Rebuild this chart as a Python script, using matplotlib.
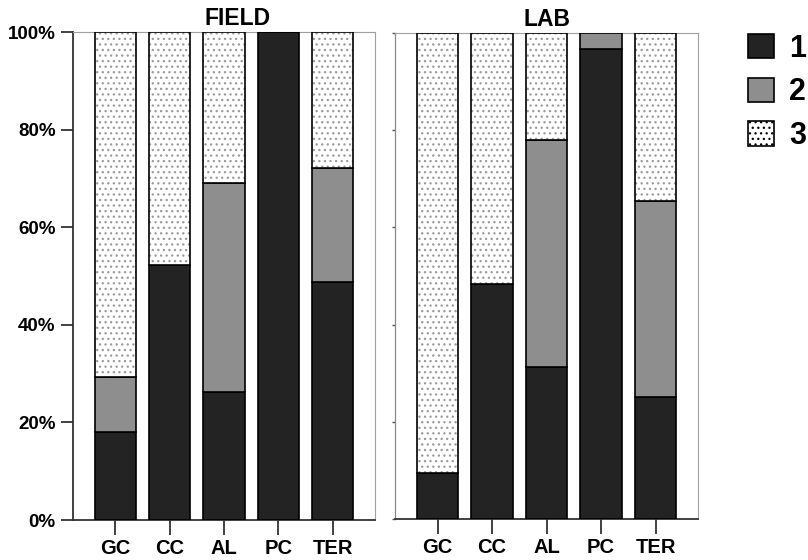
import matplotlib.pyplot as plt
from matplotlib.patches import Patch
import numpy as np

plt.rcParams['font.family'] = ['Liberation Sans', 'DejaVu Sans']
plt.rcParams['font.weight'] = 'bold'
plt.rcParams['hatch.linewidth'] = 0.9

categories = ['GC', 'CC', 'AL', 'PC', 'TER']
field_1 = [18.1, 52.3, 26.2, 100.0, 48.8]
field_2 = [11.3, 0.0, 42.9, 0.0, 23.3]
field_3 = [70.6, 47.7, 30.9, 0.0, 27.9]
lab_1 = [9.4, 48.4, 31.2, 96.6, 25.0]
lab_2 = [0.0, 0.0, 46.8, 3.4, 40.4]
lab_3 = [90.6, 51.6, 22.0, 0.0, 34.6]
yticks = [0, 20, 40, 60, 80, 100]
ytick_labels = ['0%', '20%', '40%', '60%', '80%', '100%']
legend_labels = ['1', '2', '3']

DARK = '#232323'
GRAY = '#8e8e8e'
DOT = '#9a9a9a'
WIDTH = 0.76


def draw_panel(ax, s1, s2, s3, title, show_labels, title_x):
    x = np.arange(len(categories))
    s1 = np.array(s1)
    s2 = np.array(s2)
    s3 = np.array(s3)
    ax.bar(x, s1, WIDTH, color=DARK, edgecolor='black', linewidth=1.2, zorder=3)
    ax.bar(x, s2, WIDTH, bottom=s1, color=GRAY, edgecolor='black', linewidth=1.2, zorder=3)
    m = s3 > 0
    ax.bar(x[m], s3[m], WIDTH, bottom=(s1 + s2)[m], color='white', edgecolor=DOT,
           hatch='...', linewidth=0, zorder=3)
    ax.bar(x[m], s3[m], WIDTH, bottom=(s1 + s2)[m], fill=False, edgecolor='black',
           linewidth=1.2, zorder=4)
    ax.set_xlim(-0.78, 4.78)
    ax.set_ylim(0, 100)
    ax.set_xticks(x)
    ax.set_xticklabels(categories, fontsize=14.5, fontweight='bold')
    ax.set_yticks(yticks)
    if show_labels:
        ax.set_yticklabels(ytick_labels, fontsize=13.5, fontweight='bold')
        ax.tick_params(axis='y', length=9, width=1.3, color='#333333')
    else:
        ax.set_yticklabels([])
        ax.tick_params(axis='y', length=2, width=1, color='#555555')
    ax.tick_params(axis='x', length=11, width=1.3, color='#333333', pad=3)
    for side in ['top', 'right']:
        ax.spines[side].set_color('#a0a0a0')
        ax.spines[side].set_linewidth(0.8)
    if show_labels:
        ax.spines['left'].set_color('#333333')
        ax.spines['left'].set_linewidth(1.3)
    else:
        ax.spines['left'].set_color('#888888')
        ax.spines['left'].set_linewidth(0.9)
    ax.spines['bottom'].set_color('#333333')
    ax.spines['bottom'].set_linewidth(1.3)
    ax.set_title(title, fontsize=16.5, fontweight='bold', pad=5, x=title_x)


fig = plt.figure(figsize=(8.08, 5.6), dpi=100)
ax1 = fig.add_axes([0.0903, 0.0714, 0.3738, 0.8714])
ax2 = fig.add_axes([0.4889, 0.0732, 0.375, 0.868])

draw_panel(ax1, field_1, field_2, field_3, 'FIELD', True, 0.546)
draw_panel(ax2, lab_1, lab_2, lab_3, 'LAB', False, 0.5)

handles = [Patch(facecolor=DARK, edgecolor='black', linewidth=1.2),
           Patch(facecolor=GRAY, edgecolor='black', linewidth=1.2),
           Patch(facecolor='white', edgecolor='black', hatch='...', linewidth=1.2)]
fig.legend(handles, legend_labels, loc='upper left', bbox_to_anchor=(0.926, 0.94),
           frameon=False, fontsize=22, handlelength=0.85, handleheight=0.85,
           handletextpad=0.5, labelspacing=0.45, borderaxespad=0, borderpad=0)

fig.savefig('out.png', dpi=100)
